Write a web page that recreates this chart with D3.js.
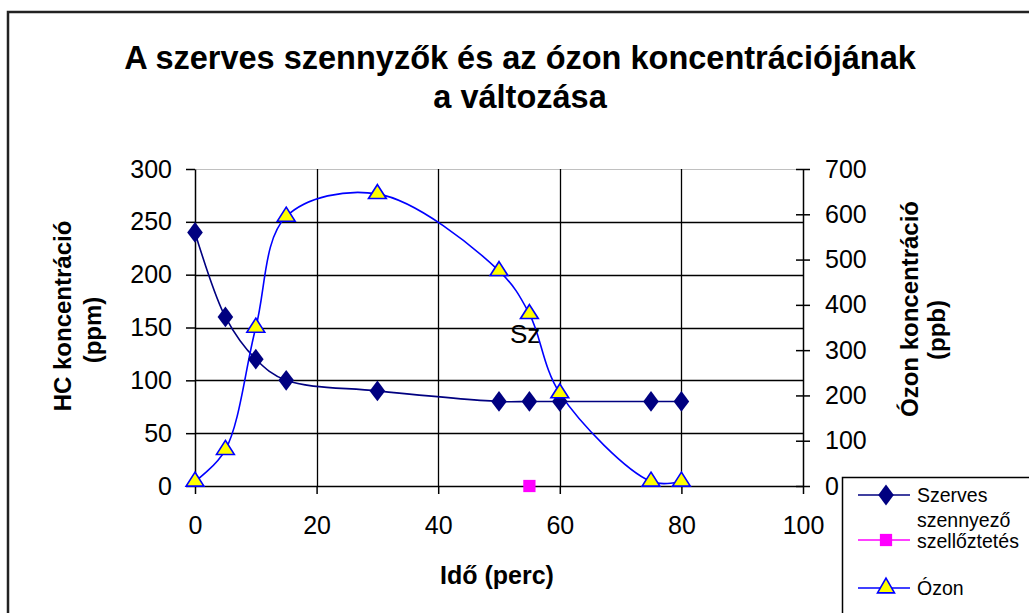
<!DOCTYPE html>
<html>
<head>
<meta charset="utf-8">
<script src="https://cdn.jsdelivr.net/npm/d3@7"></script>
<style>
  body { margin: 0; background: white; }
  text { font-family: "Liberation Sans", Arial, sans-serif; }
</style>
</head>
<body>
<div id="chart"></div>
<script>
// Chart data
var idoPerc = [0, 5, 10, 15, 30, 50, 55, 60, 75, 80];
var szerves = [240, 160, 120, 100, 90, 80, 80, 80, 80, 80];
var ozon = [10, 80, 350, 595, 645, 475, 380, 205, 10, 10];
var szellozIdo = [55];
var szellozErtek = [0];

var xTicks = [0, 20, 40, 60, 80, 100];
var yLeftTicks = [0, 50, 100, 150, 200, 250, 300];
var yRightTicks = [0, 100, 200, 300, 400, 500, 600, 700];

var svgWidth = 1029;
var svgHeight = 613;

var plot = { left: 195, right: 803, top: 169, bottom: 486 };

var svg = d3.select("#chart")
    .append("svg")
    .attr("width", svgWidth)
    .attr("height", svgHeight);

svg.append("rect").attr("width", svgWidth).attr("height", svgHeight).attr("fill", "white");

// outer chart border (runs off the right/bottom edge)
svg.append("rect")
    .attr("x", 8).attr("y", 12)
    .attr("width", 1040).attr("height", 620)
    .attr("fill", "none")
    .attr("stroke", "#222")
    .attr("stroke-width", 2.5);

var x = d3.scaleLinear().domain([0, 100]).range([plot.left, plot.right]);
var yLeft = d3.scaleLinear().domain([0, 300]).range([plot.bottom, plot.top]);
var yRight = d3.scaleLinear().domain([0, 700]).range([plot.bottom, plot.top]);

// Title
var title = svg.append("text")
    .attr("text-anchor", "middle")
    .style("font-size", "32.5px")
    .style("font-weight", "bold");
title.append("tspan").attr("x", 520).attr("y", 69).text("A szerves szennyzők és az ózon koncentrációjának");
title.append("tspan").attr("x", 520).attr("y", 108).text("a változása");

// plot border (only the top is visible)
svg.append("line")
    .attr("x1", plot.left).attr("x2", plot.right)
    .attr("y1", plot.top + 0.5).attr("y2", plot.top + 0.5)
    .attr("stroke", "#c0c0c0");

// gridlines
svg.append("g").selectAll("line")
    .data(yLeftTicks.filter(d => d > 0 && d < 300))
    .enter().append("line")
    .attr("x1", plot.left).attr("x2", plot.right)
    .attr("y1", d => Math.round(yLeft(d)) + 0.5)
    .attr("y2", d => Math.round(yLeft(d)) + 0.5)
    .attr("stroke", "black").attr("stroke-width", 1.3);

svg.append("g").selectAll("line")
    .data(xTicks.filter(d => d > 0 && d < 100))
    .enter().append("line")
    .attr("x1", d => Math.round(x(d)) + 0.5)
    .attr("x2", d => Math.round(x(d)) + 0.5)
    .attr("y1", plot.top).attr("y2", plot.bottom)
    .attr("stroke", "black").attr("stroke-width", 1.3);

// Axes
var bottomAxis = d3.axisBottom(x).tickValues(xTicks).tickSize(8).tickSizeOuter(0).tickPadding(22);
var leftAxis = d3.axisLeft(yLeft).tickValues(yLeftTicks).tickSize(9).tickSizeOuter(0).tickPadding(14);
var rightAxis = d3.axisRight(yRight).tickValues(yRightTicks).tickSize(7).tickSizeOuter(0).tickPadding(15);

function styleAxis(g) {
    g.select(".domain").attr("stroke", "black").attr("stroke-width", 1.5);
    g.selectAll(".tick line").attr("stroke", "black").attr("stroke-width", 1.5);
    g.selectAll(".tick text")
        .attr("fill", "black")
        .style("font-size", "25px")
        .style("font-family", "'Liberation Sans', Arial, sans-serif");
}

svg.append("g")
    .attr("transform", `translate(0, ${plot.bottom})`)
    .call(bottomAxis)
    .call(styleAxis);

svg.append("g")
    .attr("transform", `translate(${plot.left}, 0)`)
    .call(leftAxis)
    .call(styleAxis);

var rightG = svg.append("g")
    .attr("transform", `translate(${plot.right}, 0)`)
    .call(rightAxis)
    .call(styleAxis);
// right ticks cross the axis
rightG.selectAll(".tick line").attr("x1", -7);

// Axis titles
svg.append("text")
    .attr("x", 497).attr("y", 584)
    .attr("text-anchor", "middle")
    .style("font-size", "25px").style("font-weight", "bold")
    .text("Idő (perc)");

var leftTitle = svg.append("text")
    .attr("transform", "rotate(-90)")
    .attr("text-anchor", "middle")
    .style("font-size", "24px").style("font-weight", "bold");
leftTitle.append("tspan").attr("x", -316).attr("y", 71).text("HC koncentráció");
leftTitle.append("tspan").attr("x", -330).attr("y", 101).text("(ppm)");

var rightTitle = svg.append("text")
    .attr("transform", "rotate(-90)")
    .attr("text-anchor", "middle")
    .style("font-size", "24px").style("font-weight", "bold");
rightTitle.append("tspan").attr("x", -309).attr("y", 918).text("Ózon koncentráció");
rightTitle.append("tspan").attr("x", -330).attr("y", 945).text("(ppb)");

// Series lines (smoothed like the spreadsheet)
var szervesLine = d3.line()
    .x((d, i) => x(idoPerc[i]))
    .y(d => yLeft(d))
    .curve(d3.curveCatmullRom.alpha(0.5));

var ozonLine = d3.line()
    .x((d, i) => x(idoPerc[i]))
    .y(d => yRight(d))
    .curve(d3.curveCatmullRom.alpha(0.5));

svg.append("path")
    .attr("d", szervesLine(szerves))
    .attr("fill", "none")
    .attr("stroke", "#000080")
    .attr("stroke-width", 1.6);

svg.append("path")
    .attr("d", ozonLine(ozon))
    .attr("fill", "none")
    .attr("stroke", "#0000ff")
    .attr("stroke-width", 1.6);

var diamond = d3.symbol().type(d3.symbolDiamond).size(125);
var triangle = d3.symbol().type(d3.symbolTriangle).size(125);
var square = d3.symbol().type(d3.symbolSquare).size(150);

// Szerves markers
svg.append("g").selectAll("path")
    .data(szerves)
    .enter().append("path")
    .attr("d", diamond)
    .attr("transform", (d, i) => `translate(${x(idoPerc[i])}, ${yLeft(d)}) scale(1.3, 1)`)
    .attr("fill", "#000080");

// Szellőztetés marker
svg.append("g").selectAll("path")
    .data(szellozErtek)
    .enter().append("path")
    .attr("d", square)
    .attr("transform", (d, i) => `translate(${x(szellozIdo[i])}, ${yLeft(d)})`)
    .attr("fill", "#ff00ff");

// Ózon markers
svg.append("g").selectAll("path")
    .data(ozon)
    .enter().append("path")
    .attr("d", triangle)
    .attr("transform", (d, i) => `translate(${x(idoPerc[i])}, ${yRight(d)}) scale(1.05, 0.95)`)
    .attr("fill", "#ffff00")
    .attr("stroke", "#0000ff")
    .attr("stroke-width", 1.6);

// "Sz" annotation
svg.append("text")
    .attr("x", 510).attr("y", 343)
    .style("font-size", "26px")
    .text("Sz");

// Legend
svg.append("rect")
    .attr("x", 842.5).attr("y", 477.5)
    .attr("width", 250).attr("height", 200)
    .attr("fill", "white")
    .attr("stroke", "black")
    .attr("stroke-width", 1.5);

var legendItems = [
    { y: 495, color: "#000080", marker: diamond, scale: "scale(1.3, 1)", fill: "#000080", stroke: "none", lines: [["Szerves", 502]] },
    { y: 540, color: "#ff00ff", marker: square, scale: "", fill: "#ff00ff", stroke: "none", lines: [["szennyező", 527], ["szellőztetés", 548]] },
    { y: 588, color: "#0000ff", marker: triangle, scale: "", fill: "#ffff00", stroke: "#0000ff", lines: [["Ózon", 595]] }
];

legendItems.forEach(item => {
    var g = svg.append("g");
    g.append("line")
        .attr("x1", 858).attr("x2", 910)
        .attr("y1", item.y).attr("y2", item.y)
        .attr("stroke", item.color).attr("stroke-width", 1.6);
    g.append("path")
        .attr("d", item.marker)
        .attr("transform", `translate(886, ${item.y}) ${item.scale}`)
        .attr("fill", item.fill)
        .attr("stroke", item.stroke)
        .attr("stroke-width", 1.6);
    item.lines.forEach(l => {
        g.append("text")
            .attr("x", 917).attr("y", l[1])
            .style("font-size", "19.5px")
            .text(l[0]);
    });
});
</script>
</body>
</html>
